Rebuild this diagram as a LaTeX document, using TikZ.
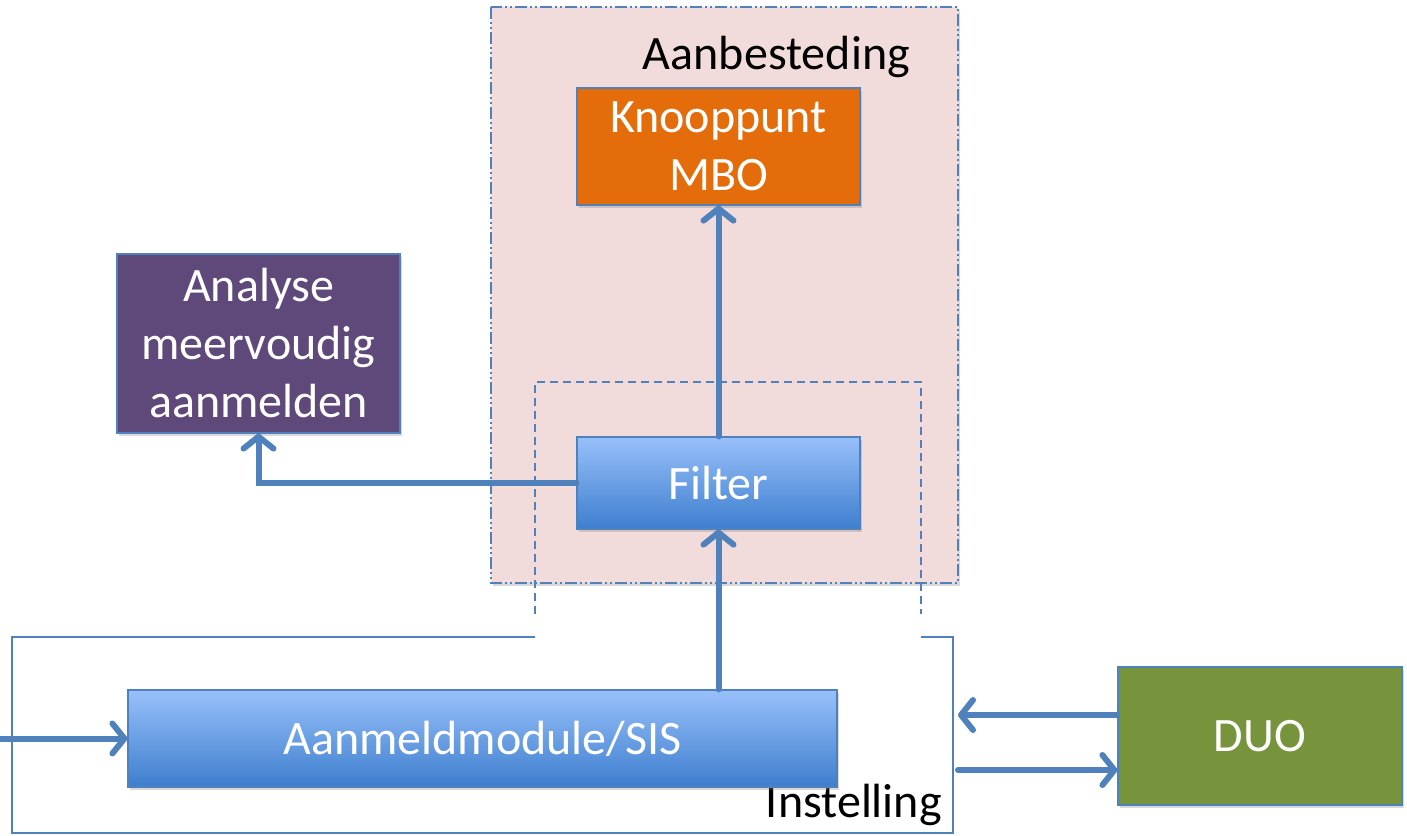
\documentclass[tikz,border=0pt]{standalone}
\usepackage{fontspec}
\setmainfont{Carlito}
\usetikzlibrary{arrows.meta,positioning,shadows}

\definecolor{lijn}{HTML}{4F81BD}
\definecolor{roze}{HTML}{F2DCDB}
\definecolor{oranje}{HTML}{E46C0A}
\definecolor{paars}{HTML}{5F497A}
\definecolor{groen}{HTML}{77933C}
\definecolor{blauwboven}{HTML}{98C0FA}
\definecolor{blauwonder}{HTML}{3E7ECE}

\tikzset{
  blok/.style={draw=lijn, line width=1.2pt, inner sep=0pt, align=center,
    text=white, font=\fontsize{48}{58}\selectfont,
    drop shadow={opacity=.3, shadow xshift=2pt, shadow yshift=-3pt}},
  verloop/.style={blok, top color=blauwboven, bottom color=blauwonder},
  pijl/.style={draw=lijn, line width=6pt, line cap=round,
    -{Straight Barb[length=12pt, width=30pt, round]}},
  label/.style={font=\fontsize{48}{58}\selectfont, inner sep=0pt}
}

\begin{document}
\begin{tikzpicture}[x=1pt, y=-1pt, node distance=336.5pt, on grid]
  \useasboundingbox (0,0) rectangle (1407,835);

  % aanbesteding (achtergrond)
  \fill[roze, drop shadow={opacity=.3, shadow xshift=2pt, shadow yshift=-3pt}]
    (491,7) rectangle (958,583);
  \draw[lijn, line width=1.3pt,
    dash pattern=on 12pt off 3pt on 2pt off 3pt on 2pt off 3pt]
    (491,7) rectangle (958,583);
  \node[label, anchor=east] (aanb) at (910,57) {Aanbesteding};

  % stippelkader rond filter
  \draw[lijn, line width=1.3pt, dash pattern=on 8pt off 5pt]
    (535,614) -- (535,382) -- (921,382) -- (921,614);

  % instelling
  \draw[lijn, line width=1.3pt]
    (535,637) -- (12,637) -- (12,833) -- (953,833) -- (953,637) -- (921,637);
  \node[label, anchor=east] (inst) at (942,805) {Instelling};

  \node[verloop, minimum width=283pt, minimum height=92pt] (filt) at (718.5,483) {Filter};
  \node[blok, fill=oranje, minimum width=283pt, minimum height=117pt] (knp)
    [above=of filt] {Knooppunt\\MBO};
  \node[blok, fill=paars, minimum width=283pt, minimum height=179pt] (ana)
    at (258.5,343.5) {Analyse\\meervoudig\\aanmelden};
  \node[verloop, minimum width=709pt, minimum height=97pt] (aanm)
    at (482.5,738.5) {Aanmeldmodule/SIS};
  \node[blok, fill=groen, minimum width=284pt, minimum height=138pt] (duo)
    at (1260,736) {DUO};

  \coordinate (bron) at (0,738.5);
  \coordinate (inR1) at (958,715);
  \coordinate (inR2) at (958,770);

  \draw[pijl] (filt) -- (knp);
  \draw[pijl] (filt.west) -| (ana.south);
  \draw[pijl] (aanm.north -| filt) -- (filt.south);
  \draw[pijl] (bron) -- (aanm.west);
  \draw[pijl] (duo.west |- inR1) -- (inR1);
  \draw[pijl] (inR2) -- (duo.west |- inR2);
\end{tikzpicture}
\end{document}
